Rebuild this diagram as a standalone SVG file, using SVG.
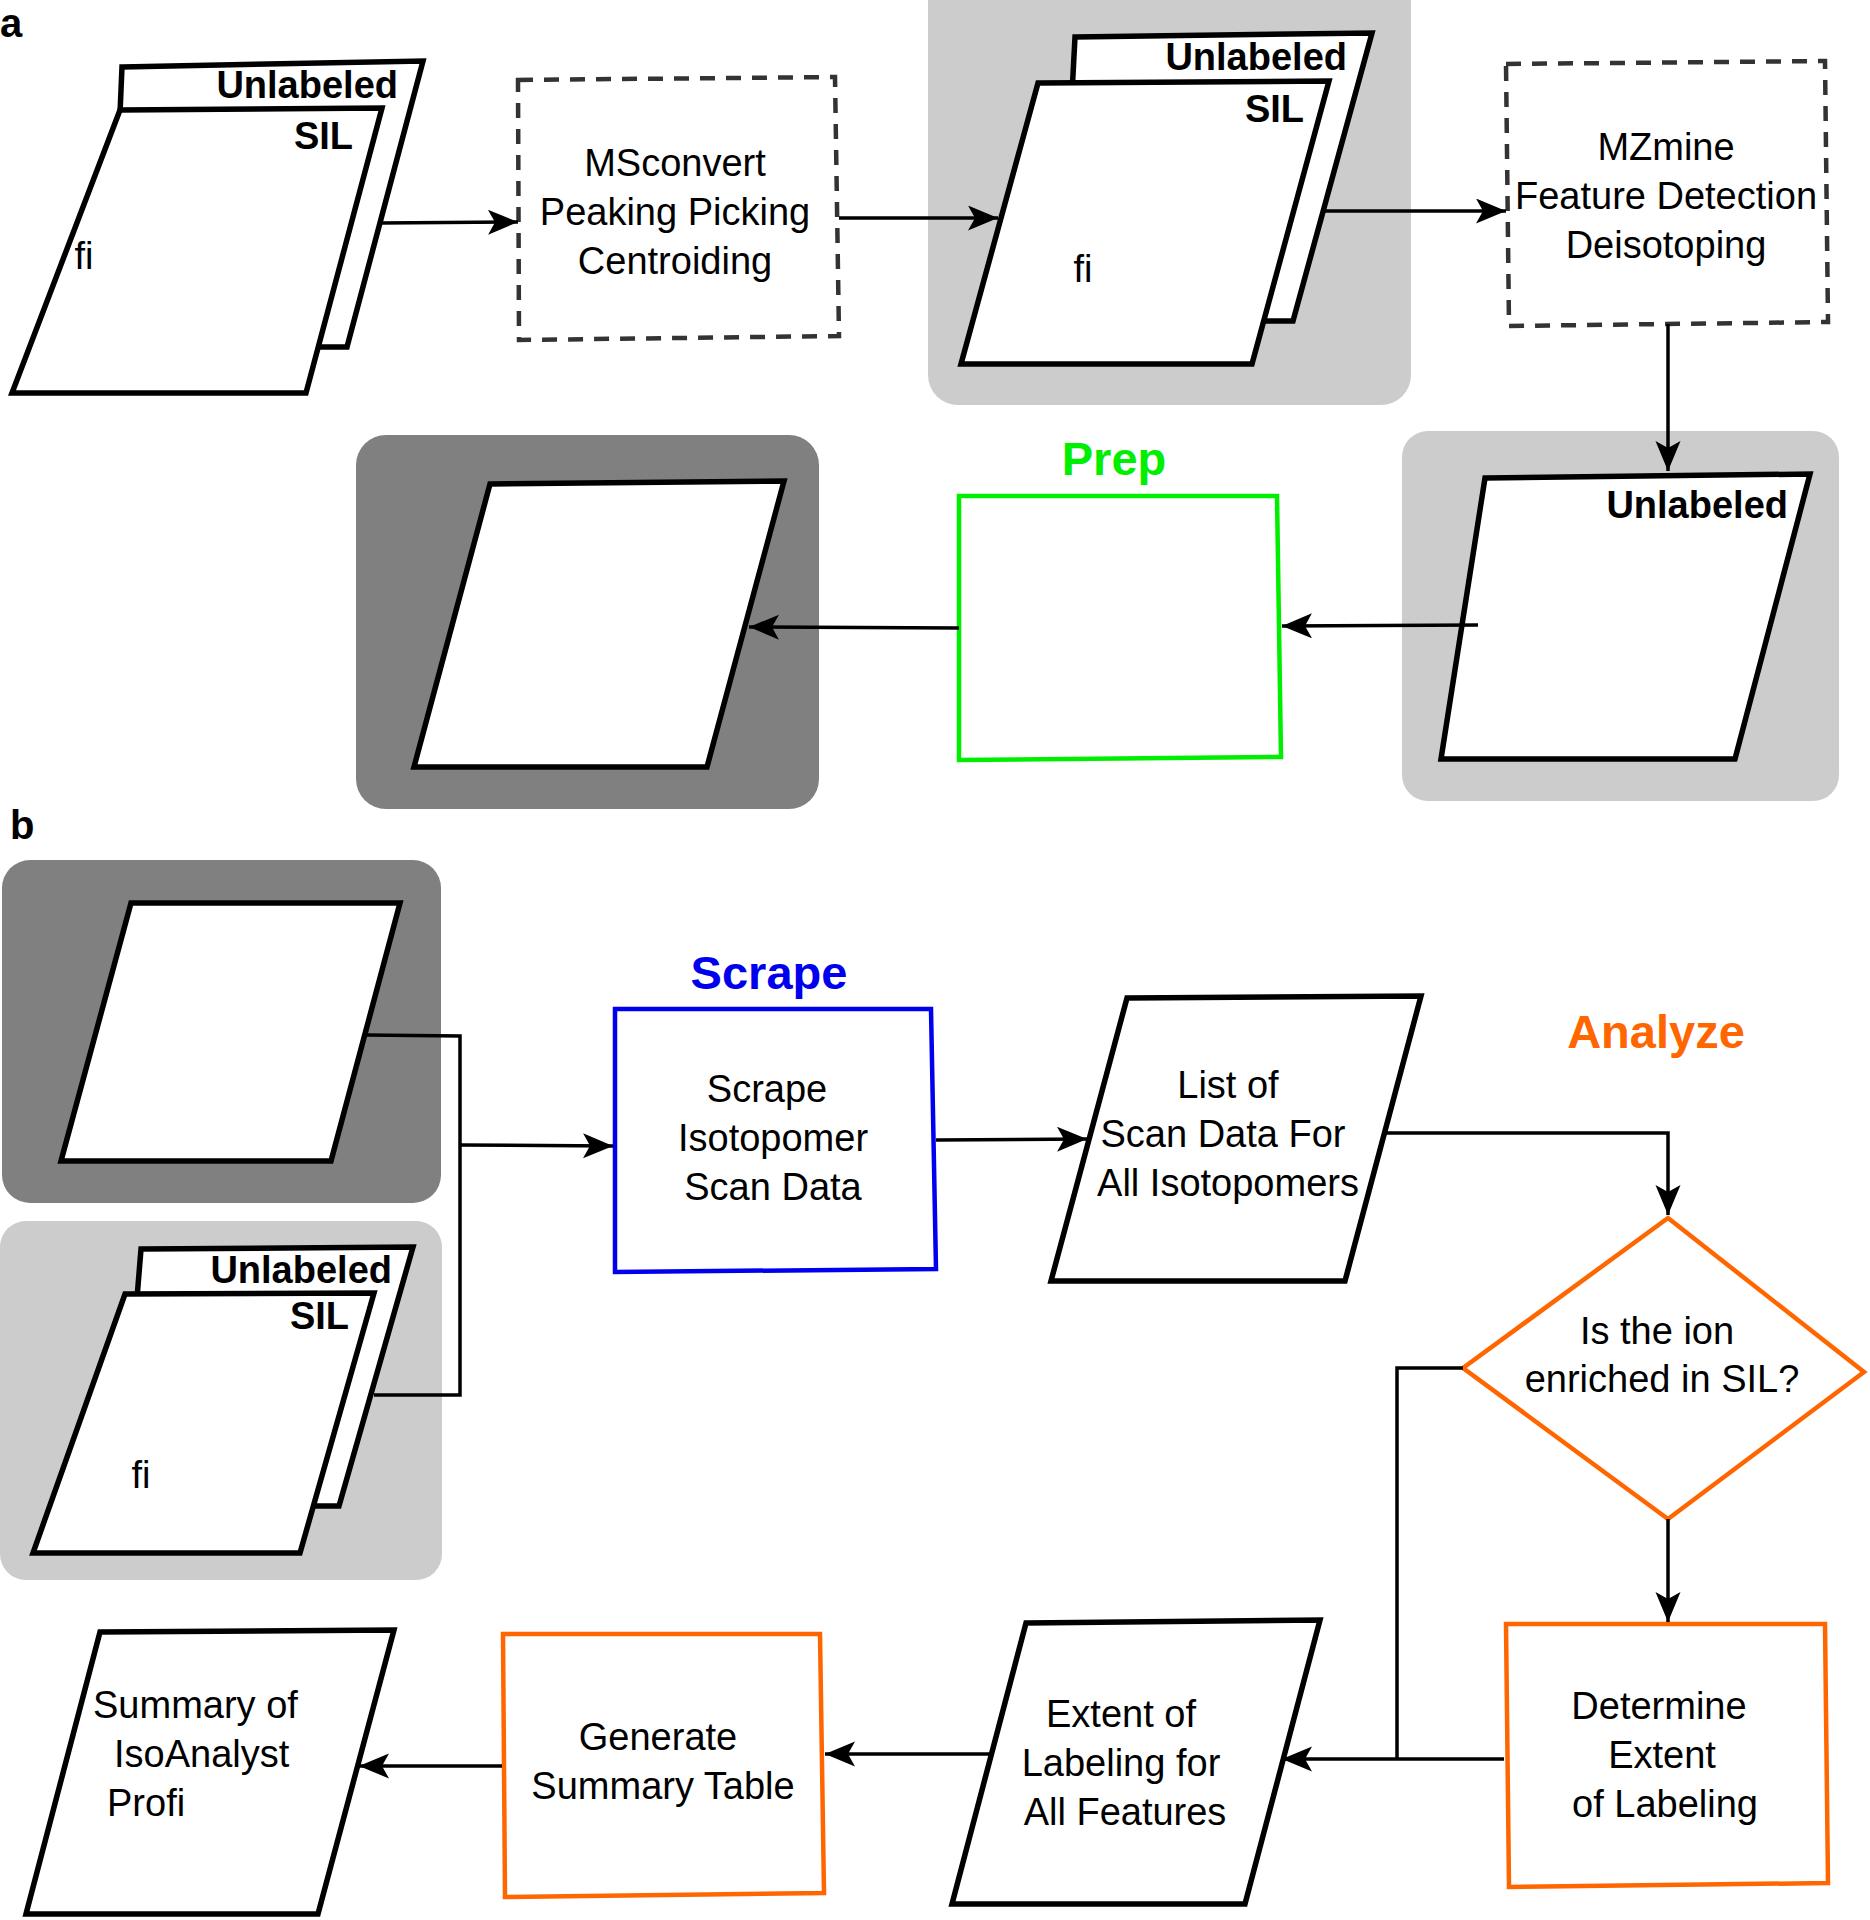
<svg xmlns="http://www.w3.org/2000/svg" width="1870" height="1920" viewBox="0 0 1870 1920">
<style>
.bg{fill:#fff}
.doc{fill:#fff;stroke:#000;stroke-width:5.5;stroke-linejoin:miter}
.dash{fill:#fff;stroke:#333;stroke-width:4.5;stroke-dasharray:15 11}
.lt{fill:#cccccc}
.dk{fill:#808080}
.t{font-family:"Liberation Sans",Arial,sans-serif;font-size:38px;fill:#000;text-anchor:middle}
.ts{font-family:"Liberation Sans",Arial,sans-serif;font-size:38px;fill:#000;text-anchor:start}
.tb{font-family:"Liberation Sans",Arial,sans-serif;font-size:38px;font-weight:bold;fill:#000;text-anchor:end}
.h{font-family:"Liberation Sans",Arial,sans-serif;font-size:47px;font-weight:bold;text-anchor:middle}
.lab{font-family:"Liberation Sans",Arial,sans-serif;font-size:40px;font-weight:bold;fill:#000}
.c{fill:none;stroke:#000;stroke-width:3.5}
.or{fill:#fff;stroke:#ff6600;stroke-width:4.5}
</style>
<defs>
<marker id="ah" markerUnits="userSpaceOnUse" markerWidth="32" markerHeight="26" refX="30" refY="12.5" orient="auto">
<path d="M0,0 L30,12.5 L0,25 L7,12.5 z" fill="#000"/>
</marker>
</defs>
<rect class="bg" x="0" y="0" width="1870" height="1920"/>
<text class="lab" x="0" y="37">a</text>
<text class="lab" x="10" y="839">b</text>

<g id="panel-a1">
<polygon class="doc" points="122,67 423,61 347,347 110,347"/>
<text class="tb" x="398" y="98">Unlabeled</text>
<polygon class="doc" points="120,110 382,108 306,393 12,393"/>
<text class="tb" x="353" y="149">SIL</text>
<text class="t" x="84" y="269">fi</text>
</g>

<g id="msconvert">
<polygon class="dash" points="518,80 835,77 839,336 519,340"/>
<text class="t" x="675" y="176">MSconvert</text>
<text class="t" x="675" y="225">Peaking Picking</text>
<text class="t" x="675" y="274">Centroiding</text>
</g>

<g id="panel-a2">
<rect class="lt" x="928" y="-30" width="483" height="435" rx="30"/>
<polygon class="doc" points="1075,37 1372,33 1293,321 1060,321"/>
<text class="tb" x="1347" y="70">Unlabeled</text>
<polygon class="doc" points="1038,83 1329,81 1252,364 961,364"/>
<text class="tb" x="1304" y="122">SIL</text>
<text class="t" x="1083" y="282">fi</text>
</g>

<g id="mzmine">
<polygon class="dash" points="1506,64 1825,61 1828,322 1509,326"/>
<text class="t" x="1666" y="160">MZmine</text>
<text class="t" x="1666" y="209">Feature Detection</text>
<text class="t" x="1666" y="258">Deisotoping</text>
</g>

<g id="panel-a3">
<rect class="lt" x="1402" y="431" width="437" height="370" rx="26"/>
<polygon class="doc" points="1485,478 1810,474 1735,759 1441,759"/>
<text class="tb" x="1788" y="518">Unlabeled</text>
</g>

<g id="prep">
<text class="h" x="1114" y="475" fill="#00ee00">Prep</text>
<polygon points="959,496 1277,496 1281,757 959,760" fill="#fff" stroke="#00ee00" stroke-width="4.5"/>
</g>

<g id="panel-a4">
<rect class="dk" x="356" y="435" width="463" height="374" rx="30"/>
<polygon class="doc" points="490,484 784,481 707,767 414,767"/>
</g>

<g id="panel-b1">
<rect class="dk" x="2" y="860" width="439" height="343" rx="28"/>
<polygon class="doc" points="131,903 400,903 331,1161 61,1161"/>
</g>

<g id="panel-b2">
<rect class="lt" x="0" y="1221" width="442" height="359" rx="26"/>
<polygon class="doc" points="141,1249 413,1247 339,1506 120,1506"/>
<text class="tb" x="392" y="1283">Unlabeled</text>
<polygon class="doc" points="125,1294 374,1293 300,1553 33,1553"/>
<text class="tb" x="349" y="1329">SIL</text>
<text class="t" x="141" y="1488">fi</text>
</g>

<g id="scrape">
<text class="h" x="769" y="989" fill="#0000ee">Scrape</text>
<polygon points="615,1009 931,1009 936,1269 615,1272" fill="#fff" stroke="#0000ee" stroke-width="4.5"/>
<text class="t" x="767" y="1102">Scrape</text>
<text class="t" x="773" y="1151">Isotopomer</text>
<text class="t" x="773" y="1200">Scan Data</text>
</g>

<g id="list">
<polygon class="doc" points="1127,998 1421,996 1345,1281 1051,1281"/>
<text class="t" x="1228" y="1098">List of</text>
<text class="t" x="1223" y="1147">Scan Data For</text>
<text class="t" x="1228" y="1196">All Isotopomers</text>
</g>

<g id="decision">
<text class="h" x="1656" y="1048" fill="#ff6600">Analyze</text>
<polygon class="or" points="1668,1218 1864,1372 1668,1519 1463,1368"/>
<text class="t" x="1657" y="1344">Is the ion</text>
<text class="t" x="1662" y="1392">enriched in SIL?</text>
</g>

<g id="determine">
<polygon class="or" points="1506,1624 1825,1624 1828,1883 1509,1887"/>
<text class="t" x="1659" y="1719">Determine</text>
<text class="t" x="1662" y="1768">Extent</text>
<text class="t" x="1665" y="1817">of Labeling</text>
</g>

<g id="extent">
<polygon class="doc" points="1026,1623 1320,1620 1245,1904 952,1904"/>
<text class="t" x="1121" y="1727">Extent of</text>
<text class="t" x="1121" y="1776">Labeling for</text>
<text class="t" x="1125" y="1825">All Features</text>
</g>

<g id="generate">
<polygon class="or" points="503,1634 820,1634 824,1893 505,1897"/>
<text class="t" x="658" y="1750">Generate</text>
<text class="t" x="663" y="1799">Summary Table</text>
</g>

<g id="summary">
<polygon class="doc" points="100,1632 394,1630 318,1914 26,1914"/>
<text class="ts" x="93" y="1718">Summary of</text>
<text class="ts" x="114" y="1767">IsoAnalyst</text>
<text class="ts" x="107" y="1816">Profi</text>
</g>

<g id="connectors">
<line class="c" x1="380" y1="223" x2="518" y2="222" marker-end="url(#ah)"/>
<line class="c" x1="839" y1="218" x2="998" y2="218" marker-end="url(#ah)"/>
<line class="c" x1="1325" y1="211" x2="1506" y2="211" marker-end="url(#ah)"/>
<line class="c" x1="1668" y1="324" x2="1668" y2="471" marker-end="url(#ah)"/>
<line class="c" x1="1478" y1="625" x2="1282" y2="626" marker-end="url(#ah)"/>
<line class="c" x1="959" y1="628" x2="749" y2="627" marker-end="url(#ah)"/>
<polyline class="c" points="365,1035 460,1036 460,1395 374,1395"/>
<line class="c" x1="460" y1="1145" x2="613" y2="1146" marker-end="url(#ah)"/>
<line class="c" x1="936" y1="1140" x2="1087" y2="1139" marker-end="url(#ah)"/>
<polyline class="c" points="1384,1133 1668,1133 1668,1215" marker-end="url(#ah)"/>
<line class="c" x1="1668" y1="1519" x2="1668" y2="1622" marker-end="url(#ah)"/>
<polyline class="c" points="1463,1368 1397,1368 1397,1759"/>
<line class="c" x1="1504" y1="1759" x2="1282" y2="1759" marker-end="url(#ah)"/>
<line class="c" x1="990" y1="1754" x2="825" y2="1754" marker-end="url(#ah)"/>
<line class="c" x1="502" y1="1766" x2="359" y2="1766" marker-end="url(#ah)"/>
</g>
</svg>
